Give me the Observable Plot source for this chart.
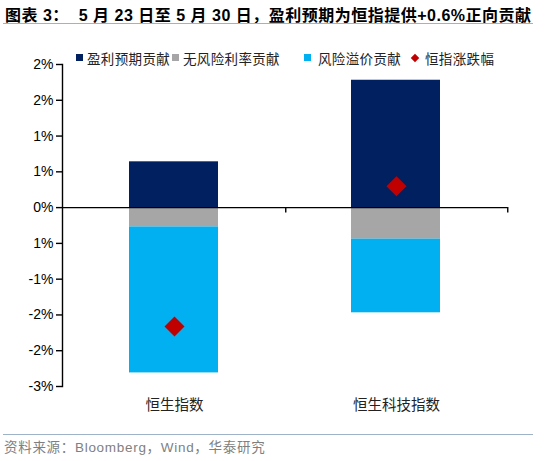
<!DOCTYPE html>
<html>
<head>
<meta charset="utf-8">
<script src="https://cdn.jsdelivr.net/npm/d3@7"></script>
<script src="https://cdn.jsdelivr.net/npm/@observablehq/plot@0.6"></script>
<style>
  html, body { margin: 0; padding: 0; background: #fff; }
  #wrap { position: relative; width: 550px; height: 461px; overflow: hidden; font-family: "Liberation Sans", "Noto Sans CJK SC", sans-serif; }
  #chart { position: absolute; left: 0; top: 0; }
  #title { position: absolute; left: 5px; top: 2px; font-size: 16px; font-weight: bold; color: #000; white-space: pre; letter-spacing: 0.5px; }
  .hline { position: absolute; left: 3px; width: 530px; height: 0; border-top: 1.5px solid #9fb3c8; }
  #legend { position: absolute; top: 49px; left: 0; width: 550px; height: 18px; font-size: 13.5px; color: #222; font-family: "Noto Sans CJK SC", sans-serif; letter-spacing: 0.35px; }
  .mk { position: absolute; top: 5px; width: 7px; height: 7px; }
  .dm { transform: rotate(45deg); width: 6px; height: 6px; top: 6px; }
  .tx { position: absolute; top: 0; line-height: 18px; white-space: nowrap; }
  #source { position: absolute; left: 4px; top: 439px; font-size: 13.5px; color: #7f7f7f; white-space: nowrap; letter-spacing: 0.7px; line-height: 18px; }
</style>
</head>
<body>
<div id="wrap">
  <div id="chart"></div>
  <div id="title"></div>
  <div class="hline" style="top:23px"></div>
  <div id="legend"></div>
  <div class="hline" style="top:434px"></div>
  <div id="source"></div>
</div>
<script>
// ---- data ----
const titleText = "图表 3：  5 月 23 日至 5 月 30 日，盈利预期为恒指提供+0.6%正向贡献";
const sourceText = "资料来源：Bloomberg，Wind，华泰研究";
const categories = ["恒生指数", "恒生科技指数"];
const seriesNames = ["盈利预期贡献", "无风险利率贡献", "风险溢价贡献"];
const seriesColors = ["#002060", "#A6A6A6", "#00B0F0"];
const earnings = [0.64, 1.78];
const riskFree = [-0.27, -0.44];
const riskPremium = [-2.04, -1.03];
const changeName = "恒指涨跌幅";
const changeColor = "#C00000";
const indexChange = [-1.66, 0.30];
const tickVals = [2, 1.5, 1, 0.5, 0, -0.5, -1, -1.5, -2, -2.5];
const tickLabels = ["2%", "2%", "1%", "1%", "0%", "1%", "-1%", "-2%", "-2%", "-3%"];

// ---- build tables ----
const seriesValues = [earnings, riskFree, riskPremium];
const table = [];
seriesNames.forEach((s, si) => {
  categories.forEach((c, ci) => table.push({cat: c, series: s, value: seriesValues[si][ci]}));
});
const points = categories.map((c, i) => ({cat: c, value: indexChange[i]}));

const chart = Plot.plot({
  width: 550,
  height: 461,
  marginTop: 64,
  marginBottom: 75,
  marginLeft: 62,
  marginRight: 43,
  style: {fontFamily: "'Liberation Sans', 'Noto Sans CJK SC', sans-serif", fontSize: "14px", color: "#000", background: "transparent"},
  x: {type: "band", domain: categories, padding: 0, axis: null, label: null},
  y: {domain: [-2.5, 2], axis: null, label: null},
  color: {domain: seriesNames, range: seriesColors},
  marks: [
    Plot.barY(table, {x: "cat", y: "value", fill: "series", insetLeft: 66, insetRight: 67, order: null}),
    Plot.ruleY([0], {stroke: "#000", strokeWidth: 1.4}),
    Plot.ruleX(categories, {x: d => d, y1: 0, y2: -0.075, dx: 111.25, stroke: "#000", strokeWidth: 1.4}),
    Plot.dot(points, {x: "cat", y: "value", symbol: "diamond2", r: 9, fill: changeColor, stroke: null}),
    Plot.axisY({ticks: tickVals, tickFormat: d => tickLabels[tickVals.indexOf(d)], tickSize: 6, tickPadding: 3, fontSize: 14, label: null, stroke: "#000", strokeWidth: 1.4}),
    Plot.frame({anchor: "left", stroke: "#000", strokeWidth: 1.4}),
    Plot.axisX({tickSize: 0, tickPadding: 13, fontSize: 14.5, label: null, fill: "#222", fontFamily: "'Noto Sans CJK SC', sans-serif"})
  ]
});
document.getElementById("chart").appendChild(chart);

document.getElementById("title").textContent = titleText;
document.getElementById("source").textContent = sourceText;

const legend = document.getElementById("legend");
const markerX = [76, 172, 304, 412];
const textX = [87, 183, 318, 425];
const names = [...seriesNames, changeName];
const colors = [...seriesColors, changeColor];
names.forEach((s, i) => {
  const mk = document.createElement("div");
  mk.className = "mk" + (i === 3 ? " dm" : "");
  mk.style.left = markerX[i] + "px";
  mk.style.background = colors[i];
  legend.appendChild(mk);
  const tx = document.createElement("div");
  tx.className = "tx";
  tx.style.left = textX[i] + "px";
  tx.textContent = s;
  legend.appendChild(tx);
});
</script>
</body>
</html>
